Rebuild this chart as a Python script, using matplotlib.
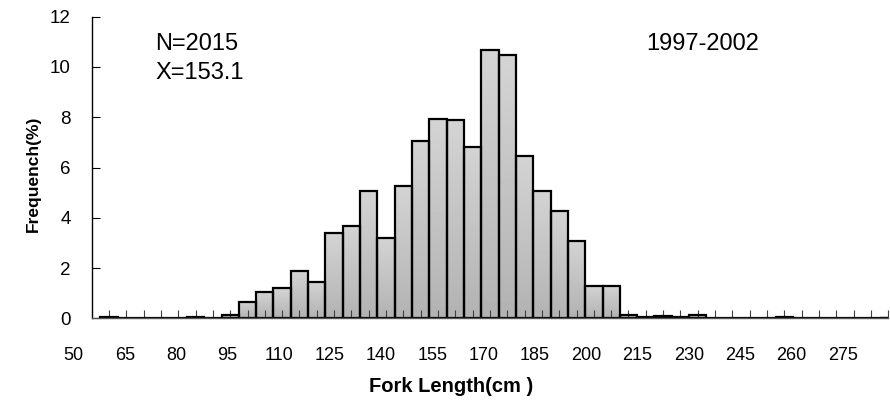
import numpy as np
import matplotlib
matplotlib.use("Agg")
import matplotlib.pyplot as plt

# fork length bins (lower bound, cm) and frequency (%)
bin_lower = np.arange(50, 280, 5)
freq = [0.05, 0, 0, 0, 0, 0.05, 0, 0.15, 0.66, 1.05,
        1.19, 1.88, 1.45, 3.38, 3.67, 5.05, 3.18, 5.27, 7.04, 7.94,
        7.88, 6.82, 10.66, 10.46, 6.46, 5.07, 4.28, 3.09, 1.29, 1.29,
        0.15, 0.05, 0.1, 0.05, 0.15, 0, 0, 0, 0, 0.05,
        0, 0, 0, 0, 0, 0]
xtick_labels = [50, 65, 80, 95, 110, 125, 140, 155, 170, 185, 200, 215, 230, 245, 260, 275]
n_fish = 2015
mean_fl = 153.1
period = "1997-2002"

plt.rcParams['font.family'] = ['Liberation Sans', 'DejaVu Sans']

fig = plt.figure(figsize=(8.9, 4.05), dpi=100)
ax = fig.add_axes([0.103, 0.214, 0.895, 0.7447])

centers = bin_lower + 2.5
bars = ax.bar(centers, freq, width=5, facecolor='none', edgecolor='black',
              linewidth=1.6, zorder=2)

# vertical gray gradient inside every bar
grad = np.linspace(0.70, 0.83, 64).reshape(-1, 1)
for b, h in zip(bars, freq):
    if h <= 0:
        continue
    x0 = b.get_x()
    im = ax.imshow(grad, cmap='gray', vmin=0, vmax=1, origin='lower', aspect='auto',
                   extent=(x0, x0 + 5, 0, h), zorder=1.5)
    im.set_clip_path(b)

ax.set_xlim(47.5, 277.5)
ax.set_ylim(0, 12)
ax.set_xticks(centers)
ax.set_xticklabels([])
ax.set_yticks(np.arange(0, 13, 2))
ax.tick_params(axis='x', direction='in', length=5.5, width=0.8, color='#404040')
ax.tick_params(axis='y', direction='in', length=5.5, width=0.8, pad=15, labelsize=13.5)
for s in ['top', 'right']:
    ax.spines[s].set_visible(False)
ax.spines['left'].set_linewidth(1.0)
ax.spines['bottom'].set_color('#555555')
ax.spines['bottom'].set_linewidth(1.0)

# category labels sit a little off the bar centres, as in the source chart
for v in xtick_labels:
    ax.text(42.25 + 0.987 * (v - 50), -0.124, str(v), transform=ax.get_xaxis_transform(),
            ha='center', va='center', fontsize=13, clip_on=False)

ax.text(0.451, -0.227, "Fork Length(cm )", transform=ax.transAxes, ha='center', va='center',
        fontsize=14.5, fontweight='bold')
ax.text(-0.0737, 0.478, "Frequench(%)", transform=ax.transAxes, ha='center', va='center',
        rotation=90, fontsize=12.5, fontweight='bold')

ax.text(0.0795, 0.9095, "N=%d" % n_fish, transform=ax.transAxes, ha='left', va='center', fontsize=17)
ax.text(0.0795, 0.813, "X=%.1f" % mean_fl, transform=ax.transAxes, ha='left', va='center', fontsize=17)
ax.text(0.696, 0.9095, period, transform=ax.transAxes, ha='left', va='center', fontsize=17)

fig.savefig("out.png", dpi=100)
